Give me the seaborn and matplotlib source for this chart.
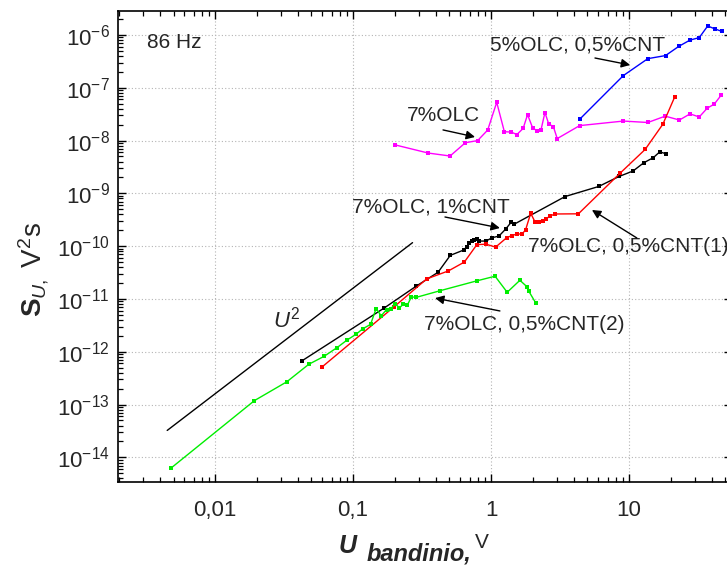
import numpy as np
import pandas as pd
import matplotlib
matplotlib.use("Agg")
import matplotlib.pyplot as plt
import seaborn as sns
from matplotlib.ticker import LogLocator, NullFormatter

# ---- measured noise spectral density at 86 Hz vs. sample voltage ----
blue_u = [4.39, 9.1, 13.7, 18.4, 23.0, 27.7, 32.3, 37.2, 42.0, 47.0]
blue_s = [2.53e-8, 1.7e-7, 3.56e-7, 4.07e-7, 6.1e-7, 8.0e-7, 8.9e-7, 1.48e-6, 1.3e-6, 1.17e-6]

magenta_u = [0.201, 0.351, 0.505, 0.652, 0.80, 0.946, 1.10, 1.25, 1.40, 1.54, 1.71, 1.84,
             2.0, 2.14, 2.30, 2.46, 2.62, 2.83, 3.02, 4.39, 9.1, 13.7, 18.3, 23.2, 27.7,
             32.3, 36.9, 41.5, 46.7]
magenta_s = [8.3e-9, 5.8e-9, 5.1e-9, 9.1e-9, 1.0e-8, 1.58e-8, 5.3e-8, 1.47e-8, 1.45e-8,
             1.3e-8, 1.7e-8, 3.1e-8, 1.76e-8, 1.54e-8, 1.57e-8, 3.4e-8, 2.06e-8, 1.84e-8,
             1.09e-8, 1.92e-8, 2.34e-8, 2.2e-8, 2.9e-8, 2.45e-8, 3.2e-8, 2.8e-8, 4.1e-8,
             4.9e-8, 7.3e-8]

black_u = [0.0425, 0.169, 0.288, 0.413, 0.507, 0.637, 0.667, 0.693, 0.724, 0.753, 0.787,
           0.822, 0.92, 1.02, 1.14, 1.28, 1.40, 1.47, 3.44, 6.03, 8.47, 10.7, 12.8, 15.0,
           16.7, 18.7]
black_s = [6.7e-13, 6.8e-12, 1.76e-11, 3.2e-11, 6.7e-11, 8.5e-11, 9.8e-11, 1.13e-10,
           1.24e-10, 1.29e-10, 1.35e-10, 1.25e-10, 1.25e-10, 1.45e-10, 1.55e-10, 2.12e-10,
           2.84e-10, 2.6e-10, 8.7e-10, 1.35e-9, 2.09e-9, 2.65e-9, 3.8e-9, 4.74e-9, 6.1e-9,
           5.6e-9]

red_u = [0.0596, 0.197, 0.342, 0.491, 0.641, 0.79, 0.92, 1.08, 1.30, 1.41, 1.54, 1.68,
         1.78, 1.94, 2.08, 2.23, 2.37, 2.50, 2.68, 2.89, 4.30, 8.65, 13.1, 17.6, 21.5]
red_s = [5.15e-13, 7.0e-12, 2.4e-11, 3.4e-11, 5.0e-11, 1.07e-10, 1.09e-10, 9.6e-11,
         1.45e-10, 1.58e-10, 1.7e-10, 1.7e-10, 2.03e-10, 4.2e-10, 2.91e-10, 2.86e-10,
         3.0e-10, 3.3e-10, 3.7e-10, 4.07e-10, 4.1e-10, 2.43e-9, 6.8e-9, 2.04e-8, 6.8e-8]

green_u = [0.00477, 0.0193, 0.0331, 0.0478, 0.0617, 0.0766, 0.0906, 0.105, 0.118, 0.134,
           0.147, 0.160, 0.175, 0.188, 0.203, 0.217, 0.232, 0.248, 0.265, 0.286, 0.430,
           0.787, 1.07, 1.31, 1.62, 1.82, 1.88, 2.11]
green_s = [6.2e-15, 1.19e-13, 2.7e-13, 5.8e-13, 8.2e-13, 1.2e-12, 1.67e-12, 2.14e-12,
           2.74e-12, 3.3e-12, 6.6e-12, 4.8e-12, 6.3e-12, 6.6e-12, 8.0e-12, 6.8e-12, 8.0e-12,
           7.7e-12, 1.1e-11, 1.07e-11, 1.44e-11, 2.2e-11, 2.7e-11, 1.34e-11, 2.26e-11,
           1.71e-11, 1.4e-11, 8.4e-12]

# quadratic guide S = k * U^2
guide_u = np.array([0.0045, 0.27])
guide_k = 1.6e-9

series_names = ["5%OLC, 0,5%CNT", "7%OLC", "7%OLC, 1%CNT",
                "7%OLC, 0,5%CNT(1)", "7%OLC, 0,5%CNT(2)"]
series_colors = ["#0000ff", "#ff00ff", "#000000", "#ff0000", "#00ee00"]

x_tick_values = [0.01, 0.1, 1, 10]
x_tick_labels = ["0,01", "0,1", "1", "10"]
y_exponents = list(range(-14, -5))

frames = []
for name, u, s in zip(series_names,
                      [blue_u, magenta_u, black_u, red_u, green_u],
                      [blue_s, magenta_s, black_s, red_s, green_s]):
    frames.append(pd.DataFrame({"U": u, "S": s, "series": name}))
df = pd.concat(frames, ignore_index=True)

sns.set_style("ticks")
plt.rcParams["font.family"] = ["Liberation Sans", "DejaVu Sans"]
plt.rcParams["mathtext.fontset"] = "custom"
plt.rcParams["mathtext.rm"] = "Liberation Sans"
plt.rcParams["mathtext.it"] = "Liberation Sans:italic"
plt.rcParams["mathtext.bf"] = "Liberation Sans:bold"

W, H = 727, 569
fig = plt.figure(figsize=(W / 100, H / 100), dpi=100)
ax = fig.add_axes([118 / W, 1 - 482 / H, (732 - 118) / W, (482 - 10.7) / H])
ax.set_xscale("log")
ax.set_yscale("log")

sns.lineplot(data=df, x="U", y="S", hue="series", hue_order=series_names,
             palette=dict(zip(series_names, series_colors)), marker="s",
             markersize=3.4, markeredgewidth=0, linewidth=1.0, estimator=None,
             sort=False, legend=False, ax=ax)

ax.plot(guide_u, guide_k * guide_u ** 2, color="black", linewidth=1.0)

ax.set_xlim(0.00198, 55.8)
ax.set_ylim(3.42e-15, 2.88e-6)

ax.set_xticks(x_tick_values)
ax.set_xticklabels(x_tick_labels, fontsize=16)
ax.set_yticks([10.0 ** e for e in y_exponents])
ax.set_yticklabels([f"$10^{{{e}}}$" for e in y_exponents], fontsize=16)
ax.xaxis.set_minor_locator(LogLocator(base=10, subs=np.arange(2, 10), numticks=50))
ax.yaxis.set_minor_locator(LogLocator(base=10, subs=np.arange(2, 10), numticks=50))
ax.xaxis.set_minor_formatter(NullFormatter())
ax.yaxis.set_minor_formatter(NullFormatter())
ax.tick_params(which="both", direction="in", top=True, right=True, color="black")
ax.tick_params(which="major", length=6, width=1.0)
ax.tick_params(which="minor", length=3.5, width=0.9)
ax.tick_params(axis="x", which="major", pad=13)
ax.tick_params(axis="y", which="major", pad=6)
for sp in ax.spines.values():
    sp.set_linewidth(1.2)
    sp.set_color("black")

ax.grid(True, which="major", color="#b4b4b4", linestyle=(0, (1, 2)), linewidth=0.8)
ax.set_axisbelow(True)
ax.set_xlabel("")
ax.set_ylabel("")

# curve labels with arrows
labels = [
    ("5%OLC, 0,5%CNT", (0.983, 6.47e-7), (5.67, 3.66e-7), (10.2, 2.7e-7)),
    ("7%OLC", (0.246, 2.92e-8), (0.449, 1.59e-8), (0.766, 1.17e-8)),
    ("7%OLC, 1%CNT", (0.0984, 5.52e-10), (0.464, 3.57e-10), (1.16, 2.21e-10)),
    ("7%OLC, 0,5%CNT(1)", (1.85, 9.66e-11), (11.4, 1.43e-10), (5.39, 4.85e-10)),
    ("7%OLC, 0,5%CNT(2)", (0.327, 3.22e-12), (1.16, 5.93e-12), (0.393, 1.04e-11)),
]
for text, pos, tail, head in labels:
    ax.text(pos[0], pos[1], text, fontsize=15, ha="left", va="center")
    ax.annotate("", xy=head, xytext=tail,
                arrowprops=dict(arrowstyle="-|>", color="black", lw=1.0,
                                mutation_scale=13, shrinkA=0, shrinkB=0))

ax.text(0.00321, 7.05e-7, "86 Hz", fontsize=15, ha="left", va="center")
ax.text(0.0263, 4.0e-12, r"$\mathit{U}^{2}$", fontsize=16, ha="left", va="center")

# axis titles
fig.text(339 / W, 1 - 553 / H, "U", fontsize=18, fontweight="bold", fontstyle="italic",
         ha="left", va="baseline")
fig.text(367 / W, 1 - 560 / H, "bandinio,", fontsize=17, fontweight="bold",
         fontstyle="italic", ha="left", va="baseline")
fig.text(475 / W, 1 - 548 / H, "V", fontsize=15, ha="left", va="baseline")
fig.text(34 / W, 1 - 269 / H, r"$\mathbf{S}_{\mathit{U},}\ \mathrm{V}^{2}\mathrm{s}$",
         fontsize=20, rotation=90, ha="center", va="center")

fig.savefig("out.png", dpi=100, facecolor="white")
